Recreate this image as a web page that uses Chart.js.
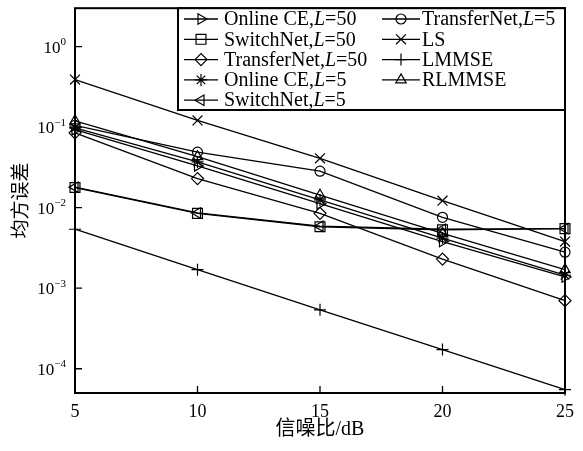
<!DOCTYPE html>
<html>
<head>
<meta charset="utf-8">
<script src="https://cdn.jsdelivr.net/npm/chart.js@4/dist/chart.umd.min.js"></script>
<style>
  html, body { margin: 0; padding: 0; background: #fff; }
  #wrap { width: 583px; height: 451px; }
</style>
</head>
<body>
<div id="wrap"><canvas id="mseChart" width="583" height="451"></canvas></div>
<script>
// SNR (dB) on the x axis
const snr = [5, 10, 15, 20, 25];

// MSE values
const onlineCE50 = [0.093, 0.033, 0.0112, 0.0038, 0.00138];
const switchNet50 = [0.0178, 0.0085, 0.0058, 0.0053, 0.0055];
const transferNet50 = [0.085, 0.023, 0.0085, 0.0023, 0.0007];
const onlineCE5 = [0.098, 0.037, 0.0125, 0.0042, 0.00145];
const switchNet5 = [0.018, 0.0086, 0.0059, 0.0054, 0.0055];
const transferNet5 = [0.105, 0.049, 0.0284, 0.0076, 0.0028];
const ls = [0.39, 0.121, 0.041, 0.0122, 0.0038];
const lmmse = [0.0054, 0.0017, 0.00054, 0.000173, 0.000055];
const rlmmse = [0.12, 0.043, 0.0143, 0.0048, 0.0017];

const seriesLabels = ['Online CE,L=50', 'SwitchNet,L=50', 'TransferNet,L=50', 'Online CE,L=5',
  'SwitchNet,L=5', 'TransferNet,L=5', 'LS', 'LMMSE', 'RLMMSE'];
const xTicks = [5, 10, 15, 20, 25];
const yTickExps = [0, -1, -2, -3, -4];

const serif = '"Liberation Serif", "Times New Roman", serif';

// marker style for each series: [pointStyle, radius, rotation]
const markers = [
  ['triangle', 6, 90],
  ['rect', 7, 0],
  ['rectRot', 6, 0],
  ['star', 6, 0],
  ['triangle', 6, -90],
  ['circle', 5, 0],
  ['crossRot', 7, 0],
  ['cross', 6, 0],
  ['triangle', 6, 0]
];
const values = [onlineCE50, switchNet50, transferNet50, onlineCE5, switchNet5, transferNet5, ls, lmmse, rlmmse];

const datasets = values.map(function (v, i) {
  return {
    label: seriesLabels[i],
    data: snr.map((x, j) => ({ x: x, y: v[j] })),
    borderColor: '#000',
    borderWidth: 1.3,
    pointStyle: markers[i][0],
    pointRadius: markers[i][1],
    pointRotation: markers[i][2],
    pointBorderColor: '#000',
    pointBackgroundColor: 'rgba(0,0,0,0)',
    pointBorderWidth: 1.2,
    fill: false,
    tension: 0,
    clip: false
  };
});

// draws "Online CE,L=50" with the L in italics
function drawLabel(ctx, text, x, y) {
  const m = text.match(/^(.*,)(L)(=.*)$/);
  const parts = m ? [[m[1], false], [m[2], true], [m[3], false]] : [[text, false]];
  ctx.textBaseline = 'middle';
  ctx.textAlign = 'left';
  parts.forEach(function (p) {
    ctx.font = (p[1] ? 'italic ' : '') + '20px ' + serif;
    ctx.fillText(p[0], x, y);
    x += ctx.measureText(p[0]).width;
  });
}

const framePlugin = {
  id: 'frame',
  afterDraw(chart) {
    const ctx = chart.ctx;
    const a = chart.chartArea;
    const xs = chart.scales.x, ys = chart.scales.y;
    ctx.save();
    ctx.strokeStyle = '#000';
    ctx.fillStyle = '#000';

    // inward tick marks
    ctx.lineWidth = 1.3;
    ctx.beginPath();
    xTicks.forEach(function (t) {
      const px = xs.getPixelForValue(t);
      ctx.moveTo(px, a.bottom);
      ctx.lineTo(px, a.bottom - 7);
    });
    yTickExps.forEach(function (e) {
      const py = ys.getPixelForValue(Math.pow(10, e));
      ctx.moveTo(a.left, py);
      ctx.lineTo(a.left + 7, py);
    });
    ctx.stroke();

    // y tick labels as 10 with superscript exponent
    yTickExps.forEach(function (e) {
      const py = ys.getPixelForValue(Math.pow(10, e));
      const exp = e === 0 ? '0' : '\u2212' + (-e);
      ctx.font = '11px ' + serif;
      const ew = ctx.measureText(exp).width;
      ctx.font = '17px ' + serif;
      const bw = ctx.measureText('10').width;
      const right = a.left - 9;
      ctx.textAlign = 'left';
      ctx.textBaseline = 'alphabetic';
      ctx.fillText('10', right - ew - bw, py + 6);
      ctx.font = '11px ' + serif;
      ctx.fillText(exp, right - ew, py - 1.5);
    });

    // plot box
    ctx.lineWidth = 2;
    ctx.strokeRect(a.left, a.top, a.right - a.left, a.bottom - a.top);

    // legend box in the upper right corner
    const lx = 178, ly = a.top, lr = a.right, lb = 110;
    ctx.fillStyle = '#fff';
    ctx.fillRect(lx, ly, lr - lx, lb - ly);
    ctx.strokeRect(lx, ly, lr - lx, lb - ly);
    ctx.fillStyle = '#000';
    const cols = [{ x1: 184, x2: 218, tx: 224 }, { x1: 382, x2: 420, tx: 422 }];
    chart.data.datasets.forEach(function (ds, i) {
      const col = cols[i < 5 ? 0 : 1];
      const row = i < 5 ? i : i - 5;
      const cy = 19 + row * 20.3;
      ctx.lineWidth = 1.3;
      ctx.beginPath();
      ctx.moveTo(col.x1, cy);
      ctx.lineTo(col.x2, cy);
      ctx.stroke();
      ctx.lineWidth = 1.2;
      ctx.fillStyle = 'rgba(0,0,0,0)';
      Chart.helpers.drawPoint(ctx, {
        pointStyle: ds.pointStyle,
        radius: ds.pointRadius,
        rotation: ds.pointRotation,
        borderWidth: 1.2
      }, (col.x1 + col.x2) / 2, cy);
      ctx.fillStyle = '#000';
      drawLabel(ctx, ds.label, col.tx, cy + 1);
    });
    ctx.restore();
  }
};

new Chart(document.getElementById('mseChart'), {
  type: 'line',
  data: { datasets: datasets },
  options: {
    responsive: false,
    animation: false,
    devicePixelRatio: 1,
    layout: { padding: { top: 8, right: 18, bottom: 0, left: 0 } },
    plugins: { legend: { display: false }, tooltip: { enabled: false } },
    scales: {
      x: {
        type: 'linear',
        min: 5,
        max: 25,
        afterFit(scale) { scale.height = 58; },
        afterBuildTicks(scale) { scale.ticks = xTicks.map(v => ({ value: v })); },
        grid: { display: false, drawTicks: false },
        border: { display: false },
        ticks: { color: '#000', font: { family: serif, size: 18 }, padding: 8, maxRotation: 0 },
        title: {
          display: true,
          text: '信噪比/dB',
          color: '#000',
          font: { family: '"Liberation Serif", "Noto Sans CJK SC", serif', size: 20 },
          padding: { top: 0, bottom: 9 }
        }
      },
      y: {
        type: 'logarithmic',
        min: 5e-5,
        max: 3,
        afterFit(scale) { scale.width = 75; },
        grid: { display: false, drawTicks: false },
        border: { display: false },
        ticks: { display: false },
        title: {
          display: true,
          text: '均方误差',
          color: '#000',
          font: { family: '"Noto Sans CJK SC", serif', size: 19 },
          padding: { top: 8, bottom: 0 }
        }
      }
    }
  },
  plugins: [framePlugin]
});
</script>
</body>
</html>
